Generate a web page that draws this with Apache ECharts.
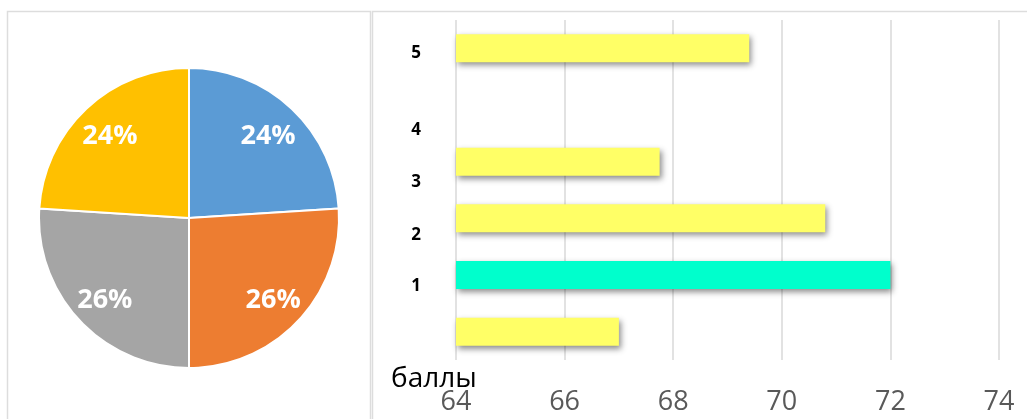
<!DOCTYPE html>
<html>
<head>
<meta charset="utf-8">
<script src="https://cdn.jsdelivr.net/npm/echarts@6/dist/echarts.min.js"></script>
<style>
  html, body { margin: 0; padding: 0; background: #fff; }
  #main { width: 1027px; height: 419px; }
</style>
</head>
<body>
<div id="main"></div>
<script>
// pie shares
const pieNames = ['A', 'B', 'C', 'D'];
const pieValues = [24, 26, 26, 24];
const pieColors = ['#5B9BD5', '#ED7D31', '#A5A5A5', '#FFC000'];

// bars, bottom slot to top slot (slot 4 is empty)
const barSlots = ['s0', 's1', 's2', 's3', 's4', 's5'];
const barValues = [67.0, 72.0, 70.8, 67.75, null, 69.4];
const barColors = ['#FFFF66', '#00FFCC', '#FFFF66', '#FFFF66', '#FFFF66', '#FFFF66'];

// row labels and where they sit on the slot scale
const rowLabels = ['1', '2', '3', '4', '5'];
const rowLabelAt = [1.30, 2.21, 3.14, 4.05, 5.41];

const xTicks = [64, 66, 68, 70, 72, 74];

const chart = echarts.init(document.getElementById('main'));

const option = {
    animation: false,
    backgroundColor: '#fff',
    graphic: [
        {
            type: 'rect', shape: { x: 7.5, y: 11.5, width: 363, height: 430 },
            style: { fill: 'none', stroke: '#DDDDDD', lineWidth: 1.5 }, z: -1
        },
        {
            type: 'rect', shape: { x: 372.5, y: 11.5, width: 670, height: 430 },
            style: { fill: 'none', stroke: '#DDDDDD', lineWidth: 1.5 }, z: -1
        },
        {
            type: 'text', left: 391, top: 365,
            style: { text: 'баллы', fill: '#000', font: '28px "Open Sans"' }
        }
    ],
    grid: { left: 456, right: 28, top: 20, bottom: 59 },
    xAxis: {
        type: 'value',
        min: 64, max: 74, interval: 2,
        axisLine: { show: false },
        axisTick: { show: false },
        splitLine: { lineStyle: { color: '#D9D9D9', width: 1.5 } },
        axisLabel: {
            color: '#595959', fontFamily: 'Open Sans', fontSize: 27, margin: 29,
            formatter: v => xTicks.indexOf(v) >= 0 ? String(v) : ''
        }
    },
    yAxis: [
        {
            type: 'category',
            data: barSlots,
            axisLine: { show: false },
            axisTick: { show: false },
            axisLabel: { show: false }
        },
        {
            type: 'value',
            position: 'left',
            min: 0, max: 6,
            axisLine: { show: false },
            axisTick: { show: false },
            splitLine: { show: false },
            axisLabel: {
                customValues: rowLabelAt,
                margin: 35,
                color: '#000', fontFamily: 'Open Sans', fontWeight: 'bold', fontSize: 17,
                formatter: v => {
                    const i = rowLabelAt.findIndex(p => Math.abs(p - v) < 1e-6);
                    return i >= 0 ? rowLabels[i] : '';
                }
            }
        }
    ],
    series: [
        {
            type: 'bar',
            yAxisIndex: 0,
            barWidth: 28,
            data: barValues.map((v, i) => ({ value: v, itemStyle: { color: barColors[i] } })),
            itemStyle: {
                shadowColor: 'rgba(0,0,0,0.45)', shadowBlur: 6,
                shadowOffsetX: 2, shadowOffsetY: 3
            }
        },
        {
            type: 'pie',
            center: [189, 218],
            radius: 150,
            startAngle: 90,
            data: pieNames.map((n, i) => ({ name: n, value: pieValues[i], itemStyle: { color: pieColors[i] } })),
            itemStyle: { borderColor: '#fff', borderWidth: 2 },
            label: { show: false },
            labelLine: { show: false }
        },
        {
            // label ring only
            type: 'pie',
            silent: true,
            center: [189, 218],
            radius: [75, 150],
            startAngle: 90,
            data: pieNames.map((n, i) => ({ name: n, value: pieValues[i] })),
            itemStyle: { color: 'rgba(0,0,0,0)' },
            label: {
                show: true, position: 'inside',
                offset: [0, 3],
                formatter: p => p.value + '%',
                color: '#fff', fontFamily: 'Open Sans', fontWeight: 'bold', fontSize: 27
            },
            labelLine: { show: false }
        }
    ]
};

chart.setOption(option);
</script>
</body>
</html>
